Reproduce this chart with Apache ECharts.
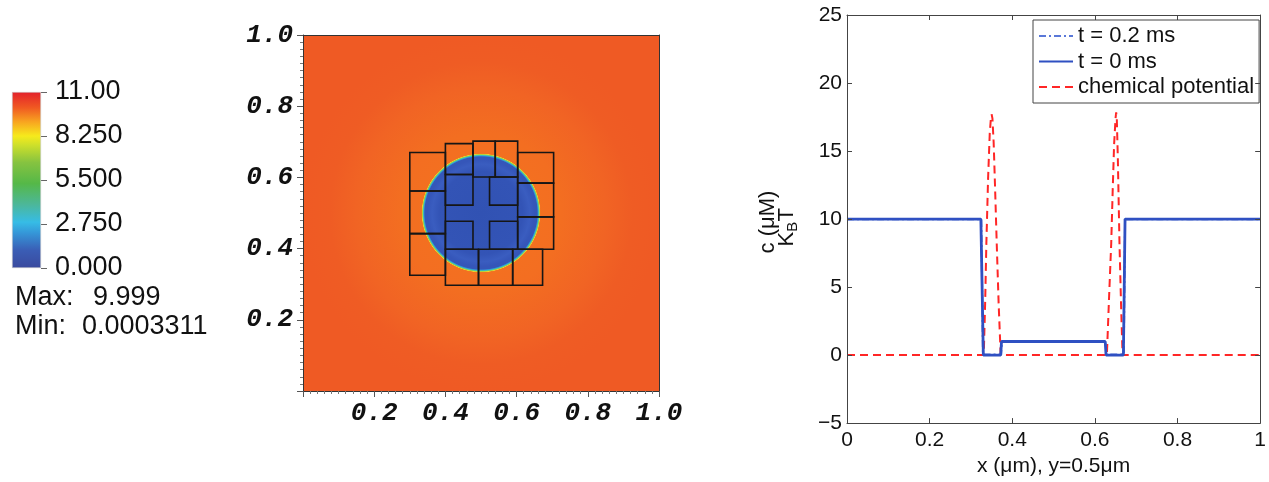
<!DOCTYPE html>
<html>
<head>
<meta charset="utf-8">
<script src="https://cdn.jsdelivr.net/npm/echarts@6/dist/echarts.min.js"></script>
<style>
  html, body { margin: 0; padding: 0; background: #fff; }
  #chart { width: 1269px; height: 482px; }
</style>
</head>
<body>
<div id="chart"></div>
<script>
// ---- Colour scale of the concentration field ----
const colorbarTicks = ['0.000', '2.750', '5.500', '8.250', '11.00'];
const colorbarRange = [0, 11];
const colorbarStep = 2.75;
const fieldMaxLabel = '9.999';
const fieldMinLabel = '0.0003311';

// ---- Concentration field on the unit square ----
const fieldTicks = ['0.2', '0.4', '0.6', '0.8', '1.0'];
const fieldDomain = [[0, 1, 0, 1]];            // x0, x1, y0, y1
const depletedDisc = [[0.5, 0.5, 0.167]];       // cx, cy, radius
// refinement patches: x0, x1, y0, y1
const patches = [
  [0.300, 0.400, 0.562, 0.670],
  [0.300, 0.400, 0.442, 0.562],
  [0.300, 0.400, 0.325, 0.442],
  [0.400, 0.4775, 0.608, 0.695],
  [0.4775, 0.540, 0.601, 0.702],
  [0.540, 0.603, 0.601, 0.702],
  [0.603, 0.704, 0.584, 0.670],
  [0.603, 0.704, 0.489, 0.584],
  [0.603, 0.704, 0.398, 0.489],
  [0.400, 0.4775, 0.522, 0.608],
  [0.524, 0.603, 0.522, 0.601],
  [0.400, 0.4775, 0.398, 0.477],
  [0.524, 0.603, 0.398, 0.477],
  [0.400, 0.493, 0.297, 0.398],
  [0.493, 0.589, 0.297, 0.398],
  [0.589, 0.673, 0.297, 0.398]
];

// ---- Profile along y = 0.5 um ----
const profileXTicks = ['0', '0.2', '0.4', '0.6', '0.8', '1'];
const profileYTicks = ['\u22125', '0', '5', '10', '15', '20', '25'];
const profileT02 = [
  [0, 9.98], [0.325, 9.98], [0.329, 0.05], [0.373, 0.05], [0.375, 0.98],
  [0.625, 0.98], [0.628, 0.05], [0.670, 0.05], [0.673, 9.98], [1, 9.98]
];
const profileT0 = [
  [0, 10], [0.324, 10], [0.330, 0], [0.372, 0], [0.374, 1],
  [0.625, 1], [0.627, 0], [0.669, 0], [0.673, 10], [1, 10]
];
const chemPotential = [
  [0, 0], [0.331, 0], [0.3345, 4], [0.3373, 8.2], [0.3415, 13], [0.3455, 16.3],
  [0.348, 17.3], [0.350, 17.7], [0.352, 17.4], [0.355, 15.6], [0.3585, 12.2],
  [0.3624, 8.2], [0.367, 3.8], [0.372, 0],
  [0.629, 0], [0.634, 4], [0.6395, 8.2], [0.643, 12], [0.6465, 15.5],
  [0.650, 17.4], [0.6515, 17.85], [0.653, 17.4], [0.6555, 14.5], [0.6595, 8.2],
  [0.6635, 3.5], [0.667, 0], [1, 0]
];

// colour ramp of the scalar bar (bottom to top)
const colorRamp = [
  [0.00, '#3a4a9e'], [0.10, '#3a5db5'], [0.20, '#3597d8'], [0.26, '#36bce6'],
  [0.36, '#4cb79a'], [0.48, '#55b848'], [0.60, '#86c340'], [0.70, '#cfe02a'],
  [0.75, '#f6ea1c'], [0.83, '#f8a520'], [0.91, '#f05a22'], [1.00, '#e3202b']
];

const sansFont = 'Liberation Sans, Arial, Helvetica, sans-serif';
const monoFont = 'Liberation Mono, Courier New, monospace';

const chart = echarts.init(document.getElementById('chart'), null, { renderer: 'canvas' });

const fieldTickLabel = {
  fontFamily: monoFont, fontWeight: 'bold', fontStyle: 'italic',
  fontSize: 26, color: '#111'
};
const profileLabel = { fontFamily: sansFont, fontSize: 21, color: '#111' };

function fieldAxisX(position, withLabels) {
  return {
    type: 'value', gridIndex: 1, position: position, min: 0, max: 1, interval: 0.2, z: 5,
    axisLine: { show: true, onZero: false, lineStyle: { color: '#333', width: 1 } },
    axisTick: { show: withLabels, inside: false, length: 6, lineStyle: { color: '#555' } },
    minorTick: { show: withLabels, splitNumber: 10, length: 3, lineStyle: { color: '#777' } },
    splitLine: { show: false }, minorSplitLine: { show: false },
    axisLabel: Object.assign({
      show: withLabels, margin: 9,
      formatter: v => v <= 0 ? '' : fieldTicks[Math.round(v / 0.2) - 1]
    }, fieldTickLabel)
  };
}
function fieldAxisY(position, withLabels) {
  const a = fieldAxisX(position, withLabels);
  a.axisLabel.margin = 10;
  return a;
}
function profileAxisX(position, withLabels) {
  return {
    type: 'value', gridIndex: 2, position: position, min: 0, max: 1, interval: 0.2, z: 5,
    axisLine: { show: true, onZero: false, lineStyle: { color: '#444', width: 1 } },
    axisTick: { show: true, inside: true, length: 5, lineStyle: { color: '#444' } },
    splitLine: { show: false },
    axisLabel: Object.assign({
      show: withLabels, margin: 7,
      formatter: v => profileXTicks[Math.round(v / 0.2)]
    }, profileLabel),
    name: withLabels ? 'x (\u03bcm), y=0.5\u03bcm' : '',
    nameLocation: 'middle', nameGap: 29,
    nameTextStyle: { fontFamily: sansFont, fontSize: 21, color: '#111' }
  };
}
function profileAxisY(position, withLabels) {
  return {
    type: 'value', gridIndex: 2, position: position, min: -5, max: 25, interval: 5, z: 5,
    axisLine: { show: true, onZero: false, lineStyle: { color: '#444', width: 1 } },
    axisTick: { show: true, inside: true, length: 5, lineStyle: { color: '#444' } },
    splitLine: { show: false },
    axisLabel: Object.assign({
      show: withLabels, margin: 5,
      formatter: v => profileYTicks[Math.round((v + 5) / 5)]
    }, profileLabel)
  };
}

const option = {
  animation: false,
  backgroundColor: '#ffffff',
  grid: [
    { left: 12, top: 92, width: 29, height: 176 },     // scalar bar
    { left: 303, top: 35, width: 356, height: 356 },   // field
    { left: 847, top: 15, width: 415, height: 414 }    // profile
  ],
  xAxis: [
    { type: 'category', gridIndex: 0, data: ['c'], show: false },
    fieldAxisX('bottom', true),
    fieldAxisX('top', false),
    profileAxisX('bottom', true),
    profileAxisX('top', false)
  ],
  yAxis: [
    {
      type: 'value', gridIndex: 0, position: 'right',
      min: colorbarRange[0], max: colorbarRange[1], interval: colorbarStep,
      axisLine: { show: false },
      axisTick: { show: true, inside: false, length: 6, lineStyle: { color: '#666' } },
      splitLine: { show: false },
      axisLabel: {
        margin: 14, fontFamily: sansFont, fontSize: 27, color: '#111',
        formatter: v => colorbarTicks[Math.round(v / colorbarStep)]
      }
    },
    fieldAxisY('left', true),
    fieldAxisY('right', false),
    profileAxisY('left', true),
    profileAxisY('right', false)
  ],
  legend: {
    data: ['t = 0.2 ms', 't = 0 ms', 'chemical potential'],
    orient: 'vertical', left: 1033, top: 20,
    itemWidth: 34, itemHeight: 22, itemGap: 3.5,
    padding: [5, 5, 5, 5],
    backgroundColor: '#fff', borderColor: '#444', borderWidth: 1,
    itemStyle: { opacity: 0 },
    textStyle: { fontFamily: sansFont, fontSize: 22, color: '#111' },
    selectedMode: false
  },
  graphic: [
    { type: 'text', x: 15, y: 298, style: { text: 'Max:', font: '27px ' + sansFont, fill: '#111', verticalAlign: 'middle' } },
    { type: 'text', x: 93, y: 298, style: { text: fieldMaxLabel, font: '27px ' + sansFont, fill: '#111', verticalAlign: 'middle' } },
    { type: 'text', x: 15, y: 327, style: { text: 'Min:', font: '27px ' + sansFont, fill: '#111', verticalAlign: 'middle' } },
    { type: 'text', x: 82, y: 327, style: { text: fieldMinLabel, font: '27px ' + sansFont, fill: '#111', verticalAlign: 'middle' } },
    {
      type: 'group', x: 778, y: 225, rotation: Math.PI / 2,
      children: [
        { type: 'text', x: 3, y: -10, style: { text: 'c (\u03bcM)', font: '22px ' + sansFont, fill: '#111', align: 'center', verticalAlign: 'middle' } },
        { type: 'text', x: -21.5, y: 9, style: { text: 'K', font: '22px ' + sansFont, fill: '#111', align: 'left', verticalAlign: 'middle' } },
        { type: 'text', x: -6.8, y: 15, style: { text: 'B', font: '15px ' + sansFont, fill: '#111', align: 'left', verticalAlign: 'middle' } },
        { type: 'text', x: 3.4, y: 9, style: { text: 'T', font: '22px ' + sansFont, fill: '#111', align: 'left', verticalAlign: 'middle' } }
      ]
    }
  ],
  series: [
    {
      type: 'bar', xAxisIndex: 0, yAxisIndex: 0, silent: true,
      data: [colorbarRange[1]], barWidth: '100%',
      itemStyle: {
        color: {
          type: 'linear', x: 0, y: 1, x2: 0, y2: 0,
          colorStops: colorRamp.map(s => ({ offset: s[0], color: s[1] }))
        },
        borderColor: '#c8c8c8', borderWidth: 0.6
      }
    },
    {
      type: 'custom', xAxisIndex: 1, yAxisIndex: 1, silent: true, z: 1,
      data: fieldDomain, encode: { x: [0, 1], y: [2, 3] },
      renderItem: (params, api) => {
        const p0 = api.coord([api.value(0), api.value(3)]);
        const p1 = api.coord([api.value(1), api.value(2)]);
        return {
          type: 'rect',
          shape: { x: p0[0], y: p0[1], width: p1[0] - p0[0], height: p1[1] - p0[1] },
          style: {
            fill: {
              type: 'radial', x: 0.5, y: 0.5, r: 0.5,
              colorStops: [
                { offset: 0, color: '#f3741f' }, { offset: 0.45, color: '#f36e21' },
                { offset: 0.7, color: '#f16424' }, { offset: 0.85, color: '#ef5c24' },
                { offset: 1, color: '#ef5a24' }
              ]
            }
          }
        };
      }
    },
    {
      type: 'custom', xAxisIndex: 1, yAxisIndex: 1, silent: true, z: 2,
      data: depletedDisc, encode: { x: 0, y: 1 },
      renderItem: (params, api) => {
        const c = api.coord([api.value(0), api.value(1)]);
        const r = api.size([api.value(2), 0])[0];
        return {
          type: 'circle',
          shape: { cx: c[0], cy: c[1], r: r },
          style: {
            fill: {
              type: 'radial', x: 0.5, y: 0.5, r: 0.5,
              colorStops: [
                { offset: 0, color: '#3152b3' }, { offset: 0.7, color: '#3354b6' },
                { offset: 0.82, color: '#3a5dc0' }, { offset: 0.9, color: '#3556b9' },
                { offset: 0.945, color: '#3556b9' }, { offset: 0.958, color: '#2f8fd4' },
                { offset: 0.970, color: '#3fc0b8' }, { offset: 0.982, color: '#9ccf45' },
                { offset: 0.992, color: '#f0d52c' }, { offset: 1, color: '#f07a22' }
              ]
            }
          }
        };
      }
    },
    {
      type: 'custom', xAxisIndex: 1, yAxisIndex: 1, silent: true, z: 3,
      data: patches, encode: { x: [0, 1], y: [2, 3] },
      renderItem: (params, api) => {
        const p0 = api.coord([api.value(0), api.value(3)]);
        const p1 = api.coord([api.value(1), api.value(2)]);
        return {
          type: 'rect',
          shape: { x: p0[0], y: p0[1], width: p1[0] - p0[0], height: p1[1] - p0[1] },
          style: { fill: 'none', stroke: '#161616', lineWidth: 1.6 }
        };
      }
    },
    {
      name: 'chemical potential', type: 'line', xAxisIndex: 3, yAxisIndex: 3,
      data: chemPotential, symbol: 'none', showSymbol: false, silent: true,
      lineStyle: { color: '#ff2626', width: 2, type: [8, 5] }, itemStyle: { color: '#ff2626' }
    },
    {
      name: 't = 0.2 ms', type: 'line', xAxisIndex: 3, yAxisIndex: 3,
      data: profileT02, symbol: 'none', showSymbol: false, silent: true,
      lineStyle: { color: '#5a78d8', width: 2, type: [7, 3, 2, 3] }, itemStyle: { color: '#5a78d8' }
    },
    {
      name: 't = 0 ms', type: 'line', xAxisIndex: 3, yAxisIndex: 3,
      data: profileT0, symbol: 'none', showSymbol: false, silent: true,
      lineStyle: { color: '#2f50c2', width: 2.8 }, itemStyle: { color: '#2f50c2' }
    }
  ]
};

chart.setOption(option);
</script>
</body>
</html>
